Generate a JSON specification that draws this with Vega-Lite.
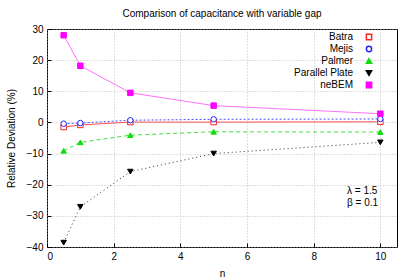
{
  "$schema": "https://vega.github.io/schema/vega-lite/v6.json",
  "width": 350,
  "height": 218,
  "autosize": {"type": "none"},
  "padding": {"left": 47, "top": 29, "right": 18, "bottom": 30},
  "background": "white",
  "title": {"text": "Comparison of capacitance with variable gap", "font": "Liberation Sans", "fontSize": 10, "fontWeight": "normal", "offset": 5},
  "config": {
    "font": "Liberation Sans",
    "view": {"stroke": "black", "strokeWidth": 1},
    "axis": {"grid": true, "gridColor": "#b0b0b0", "gridDash": [1, 2], "gridWidth": 0.8, "domain": false, "tickColor": "black", "tickSize": -4, "labelFont": "Liberation Sans", "labelFontSize": 10, "labelColor": "black", "titleFont": "Liberation Sans", "titleFontSize": 10, "titleFontWeight": "normal", "titleColor": "black"},
    "legend": {"labelFont": "Liberation Sans", "labelFontSize": 10, "labelColor": "black", "padding": 0}
  },
  "data": {"values": [
    {"eta": 0.5, "dev": -1.5, "series": "Batra"},
    {"eta": 1, "dev": -0.8, "series": "Batra"},
    {"eta": 2.5, "dev": 0.1, "series": "Batra"},
    {"eta": 5, "dev": 0.1, "series": "Batra"},
    {"eta": 10, "dev": 0.2, "series": "Batra"},
    {"eta": 0.5, "dev": -0.4, "series": "Mejis"},
    {"eta": 1, "dev": -0.2, "series": "Mejis"},
    {"eta": 2.5, "dev": 0.7, "series": "Mejis"},
    {"eta": 5, "dev": 1.0, "series": "Mejis"},
    {"eta": 10, "dev": 1.1, "series": "Mejis"},
    {"eta": 0.5, "dev": -9.1, "series": "Palmer"},
    {"eta": 1, "dev": -6.4, "series": "Palmer"},
    {"eta": 2.5, "dev": -4.1, "series": "Palmer"},
    {"eta": 5, "dev": -3.0, "series": "Palmer"},
    {"eta": 10, "dev": -3.1, "series": "Palmer"},
    {"eta": 0.5, "dev": -38.6, "series": "Parallel Plate"},
    {"eta": 1, "dev": -27.1, "series": "Parallel Plate"},
    {"eta": 2.5, "dev": -15.8, "series": "Parallel Plate"},
    {"eta": 5, "dev": -10.0, "series": "Parallel Plate"},
    {"eta": 10, "dev": -6.4, "series": "Parallel Plate"},
    {"eta": 0.5, "dev": 28.0, "series": "neBEM"},
    {"eta": 1, "dev": 18.2, "series": "neBEM"},
    {"eta": 2.5, "dev": 9.5, "series": "neBEM"},
    {"eta": 5, "dev": 5.4, "series": "neBEM"},
    {"eta": 10, "dev": 2.8, "series": "neBEM"}
  ]},
  "encoding": {
    "x": {"field": "eta", "type": "quantitative", "scale": {"domain": [0, 10.5], "nice": false}, "axis": {"title": "η", "values": [0, 2, 4, 6, 8, 10], "labelPadding": 8, "titlePadding": 7}},
    "y": {"field": "dev", "type": "quantitative", "scale": {"domain": [-40, 30], "nice": false}, "axis": {"title": "Relative Deviation (%)", "values": [-40, -30, -20, -10, 0, 10, 20, 30], "labelPadding": 8, "titlePadding": 10}}
  },
  "layer": [
    {"transform": [{"filter": "datum.series === 'Batra'"}], "mark": {"type": "line", "strokeWidth": 1, "color": "#ff5050"}},
    {"transform": [{"filter": "datum.series === 'Mejis'"}], "mark": {"type": "line", "strokeWidth": 1, "color": "#5050ff", "strokeDash": [2, 2]}},
    {"transform": [{"filter": "datum.series === 'Palmer'"}], "mark": {"type": "line", "strokeWidth": 1, "color": "#40e040", "strokeDash": [4, 3]}},
    {"transform": [{"filter": "datum.series === 'Parallel Plate'"}], "mark": {"type": "line", "strokeWidth": 1, "color": "#333333", "strokeDash": [1, 3]}},
    {"transform": [{"filter": "datum.series === 'neBEM'"}], "mark": {"type": "line", "strokeWidth": 1, "color": "#ff70ff"}},
    {
      "mark": {"type": "point", "size": 30, "strokeWidth": 1, "opacity": 1},
      "encoding": {
        "stroke": {"field": "series", "type": "nominal", "scale": {"domain": ["Batra", "Mejis", "Palmer", "Parallel Plate", "neBEM"], "range": ["#ff2222", "#2222ff", "#11dd11", "#000000", "#ff00ff"]}, "legend": {"title": null, "orient": "none", "legendX": 317, "legendY": 3, "labelAlign": "right", "labelOffset": -21, "rowPadding": 0, "symbolSize": 28}},
        "fill": {"field": "series", "type": "nominal", "scale": {"domain": ["Batra", "Mejis", "Palmer", "Parallel Plate", "neBEM"], "range": ["white", "white", "#11dd11", "#000000", "#ff00ff"]}, "legend": {"title": null, "orient": "none", "legendX": 317, "legendY": 3, "labelAlign": "right", "labelOffset": -21, "rowPadding": 0, "symbolSize": 28}},
        "shape": {"field": "series", "type": "nominal", "scale": {"domain": ["Batra", "Mejis", "Palmer", "Parallel Plate", "neBEM"], "range": ["square", "circle", "triangle-up", "triangle-down", "square"]}, "legend": {"title": null, "orient": "none", "legendX": 317, "legendY": 3, "labelAlign": "right", "labelOffset": -21, "rowPadding": 0, "symbolSize": 28}}
      }
    },
    {
      "transform": [{"filter": "datum.series === 'Batra' && datum.eta === 10"}],
      "mark": {"type": "text", "align": "left", "fontSize": 10, "font": "Liberation Sans", "color": "black"},
      "encoding": {"x": {"datum": 9.0}, "y": {"datum": -22.0}, "text": {"value": "λ = 1.5"}}
    },
    {
      "transform": [{"filter": "datum.series === 'Batra' && datum.eta === 10"}],
      "mark": {"type": "text", "align": "left", "fontSize": 10, "font": "Liberation Sans", "color": "black"},
      "encoding": {"x": {"datum": 9.0}, "y": {"datum": -25.8}, "text": {"value": "β = 0.1"}}
    }
  ]
}
